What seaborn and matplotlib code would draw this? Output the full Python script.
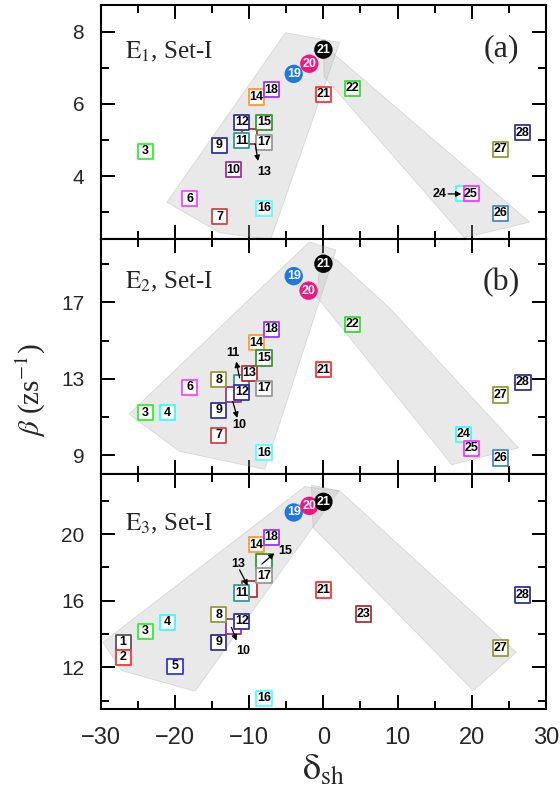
import matplotlib
matplotlib.use("Agg")
import pandas as pd
import matplotlib.pyplot as plt
import seaborn as sns
from matplotlib.ticker import MultipleLocator

# outline colours of the square markers, by state number
box_colors = {
    "1": "#555555", "2": "#ff3333", "3": "#33ee33", "4": "#33ffff", "5": "#3333ee",
    "6": "#ff44ff", "7": "#d04444", "8": "#999933", "9": "#333399", "10": "#993399",
    "11": "#339999", "12": "#3333aa", "13": "#b03333", "14": "#ff9933", "15": "#339933",
    "16": "#55ffff", "17": "#999999", "18": "#9933ff", "21": "#ff3333", "22": "#33dd33",
    "23": "#aa3333", "24": "#33ffff", "25": "#ff33ff", "26": "#4488cc", "27": "#999933",
    "28": "#333399",
}
dot_colors = {"19": "#1f78e0", "20": "#f5157f", "21": "#000000"}

# ---- panel (a): E1, Set-I
a_box_lab = ["13", "3", "6", "7", "9", "10", "11", "12", "14", "15", "16", "17", "18",
             "21", "22", "24", "25", "26", "27", "28"]
a_box_x = [-10.0, -24.0, -18.0, -14.0, -14.0, -12.1, -11.0, -11.0, -9.0, -8.0, -8.0, -8.0,
           -7.0, 0.0, 3.9, 18.9, 19.9, 23.9, 23.9, 26.8]
a_box_y = [5.1, 4.69, 3.38, 2.88, 4.86, 4.18, 4.98, 5.49, 6.19, 5.49, 3.11, 4.94, 6.39,
           6.27, 6.43, 3.51, 3.51, 2.98, 4.74, 5.2]
a_dot_x = [-4.0, -1.9, 0.0]
a_dot_y = [6.83, 7.11, 7.5]
a_call_lab = ["13", "24"]
a_call_text = [(-8.0, 4.12), (15.7, 3.51)]
a_call_tail = [(-9.2, 4.9), (16.8, 3.51)]
a_call_head = [(-8.8, 4.42), (18.6, 3.51)]
a_left_poly = [(-5.1, 7.97), (2.2, 7.7), (-7.1, 2.25), (-14.0, 2.44), (-21.1, 3.28)]
a_right_poly = [(0.0, 7.55), (1.3, 7.4), (27.8, 2.73), (19.0, 2.3), (0.1, 6.75)]

# ---- panel (b): E2, Set-I
b_box_lab = ["10", "11", "13", "3", "4", "6", "7", "8", "9", "12", "14", "15", "16", "17",
             "18", "21", "22", "24", "25", "26", "27", "28"]
b_box_x = [-12.1, -11.0, -10.0, -24.0, -21.0, -18.0, -14.1, -14.1, -14.1, -11.0, -9.0,
           -8.0, -8.0, -8.0, -7.0, 0.0, 3.9, 18.9, 20.0, 23.9, 23.9, 26.9]
b_box_y = [12.17, 12.82, 13.3, 11.23, 11.23, 12.56, 10.05, 12.96, 11.36, 12.29, 14.88,
           14.09, 9.12, 12.5, 15.59, 13.48, 15.86, 10.09, 9.35, 8.85, 12.15, 12.82]
b_dot_x = [-4.0, -2.0, 0.0]
b_dot_y = [18.38, 17.62, 19.03]
b_call_lab = ["11", "10"]
b_call_text = [(-12.2, 14.35), (-11.3, 10.57)]
b_call_tail = [(-11.3, 13.05), (-12.2, 11.8)]
b_call_head = [(-11.75, 13.9), (-11.6, 10.95)]
b_left_poly = [(-1.9, 20.17), (1.7, 19.75), (-7.9, 8.25), (-19.4, 9.2), (-26.2, 11.15)]
b_right_poly = [(-0.3, 19.6), (1.9, 19.2), (8.95, 16.7), (26.3, 9.38), (17.3, 8.5), (-0.9, 17.3)]

# ---- panel (c): E3, Set-I
c_box_lab = ["10", "13", "15", "1", "2", "3", "4", "5", "8", "9", "11", "12", "14", "16",
             "17", "18", "21", "23", "27", "28"]
c_box_x = [-12.1, -10.0, -8.0, -27.0, -27.0, -24.0, -21.0, -20.0, -14.1, -14.1, -11.0,
           -11.0, -9.0, -8.0, -8.0, -7.0, 0.0, 5.35, 23.9, 26.8]
c_box_y = [14.46, 16.7, 18.36, 13.5, 12.6, 14.16, 14.7, 12.06, 15.16, 13.5, 16.46, 14.76,
           19.36, 10.13, 17.5, 19.8, 16.64, 15.2, 13.16, 16.34]
c_dot_x = [-4.0, -1.9, 0.0]
c_dot_y = [21.3, 21.7, 21.94]
c_call_lab = ["13", "15", "10"]
c_call_text = [(-11.5, 18.2), (-5.2, 19.0), (-10.8, 12.96)]
c_call_tail = [(-11.3, 17.85), (-8.3, 18.2), (-12.4, 14.4)]
c_call_head = [(-10.2, 16.9), (-6.6, 18.85), (-11.7, 13.6)]
c_left_poly = [(-29.7, 13.5), (-2.5, 22.86), (2.1, 22.6), (-17.3, 10.56), (-27.2, 11.8)]
c_right_poly = [(-1.6, 22.94), (2.2, 22.6), (26.0, 12.9), (20.2, 10.6), (-1.4, 20.4)]

panels = [
    dict(box_lab=a_box_lab, box_x=a_box_x, box_y=a_box_y, dot_x=a_dot_x, dot_y=a_dot_y,
         call_lab=a_call_lab, call_text=a_call_text, call_tail=a_call_tail,
         call_head=a_call_head, polys=[a_left_poly, a_right_poly],
         ylim=(2.25, 8.74), major=2, minor=1, offset=0,
         name=r"$\mathrm{E_1}$, Set-I", tag="(a)", name_y=0.80, tag_y=0.815),
    dict(box_lab=b_box_lab, box_x=b_box_x, box_y=b_box_y, dot_x=b_dot_x, dot_y=b_dot_y,
         call_lab=b_call_lab, call_text=b_call_text, call_tail=b_call_tail,
         call_head=b_call_head, polys=[b_left_poly, b_right_poly],
         ylim=(8.0, 20.3), major=4, minor=2, offset=1,
         name=r"$\mathrm{E_2}$, Set-I", tag="(b)", name_y=0.82, tag_y=0.815),
    dict(box_lab=c_box_lab, box_x=c_box_x, box_y=c_box_y, dot_x=c_dot_x, dot_y=c_dot_y,
         call_lab=c_call_lab, call_text=c_call_text, call_tail=c_call_tail,
         call_head=c_call_head, polys=[c_left_poly, c_right_poly],
         ylim=(9.5, 23.6), major=4, minor=2, offset=0,
         name=r"$\mathrm{E_3}$, Set-I", tag=None, name_y=0.79, tag_y=0.8),
]

sns.set_style("ticks")
plt.rcParams["font.family"] = ["Liberation Sans", "DejaVu Sans"]
plt.rcParams["mathtext.fontset"] = "stix"

fig, axes = plt.subplots(3, 1, sharex=True, figsize=(5.6, 8.01))
fig.subplots_adjust(left=0.18, right=0.975, top=0.994, bottom=0.115, hspace=0)

for ax, p in zip(axes, panels):
    for poly in p["polys"]:
        px = [v[0] for v in poly]
        py = [v[1] for v in poly]
        ax.fill(px, py, facecolor="#b8b8b8", alpha=0.3, edgecolor="#9a9a9a", lw=0.6, zorder=1)

    box_df = pd.DataFrame({"x": p["box_x"], "y": p["box_y"], "label": p["box_lab"]})
    sns.scatterplot(data=box_df, x="x", y="y", hue="label", palette=box_colors, marker="s",
                    s=118, linewidth=1.3, legend=False, ax=ax, zorder=3)
    coll = ax.collections[-1]
    coll.set_edgecolors(coll.get_facecolors())
    coll.set_facecolors("white")

    dot_df = pd.DataFrame({"x": p["dot_x"], "y": p["dot_y"], "label": ["19", "20", "21"]})
    sns.scatterplot(data=dot_df, x="x", y="y", hue="label", palette=dot_colors, marker="o",
                    s=175, linewidth=0, legend=False, ax=ax, zorder=4)

    for lab, x, y in zip(p["box_lab"], p["box_x"], p["box_y"]):
        if lab in p["call_lab"]:
            continue
        ax.text(x, y, lab, ha="center", va="center", fontsize=9, fontweight="bold",
                color="black", zorder=5)
    for lab, x, y in zip(["19", "20", "21"], p["dot_x"], p["dot_y"]):
        ax.text(x, y, lab, ha="center", va="center", fontsize=9, fontweight="bold",
                color="white", zorder=5)
    for lab, t, tail, head in zip(p["call_lab"], p["call_text"], p["call_tail"], p["call_head"]):
        ax.text(t[0], t[1], lab, ha="center", va="center", fontsize=9, fontweight="bold",
                color="black", zorder=6)
        ax.annotate("", xy=head, xytext=tail,
                    arrowprops=dict(arrowstyle="-|>", color="black", lw=0.9,
                                    mutation_scale=8, shrinkA=0, shrinkB=0), zorder=6)

    ax.text(0.054, p["name_y"], p["name"], transform=ax.transAxes, fontsize=18,
            family="Liberation Serif", ha="left", va="center")
    if p["tag"]:
        ax.text(0.9, p["tag_y"], p["tag"], transform=ax.transAxes, fontsize=23,
                family="Liberation Serif", ha="center", va="center")

    ax.set_xlim(-30, 30)
    ax.set_ylim(*p["ylim"])
    ax.xaxis.set_major_locator(MultipleLocator(10))
    ax.xaxis.set_minor_locator(MultipleLocator(5))
    ax.yaxis.set_major_locator(MultipleLocator(p["major"], offset=p["offset"]))
    ax.yaxis.set_minor_locator(MultipleLocator(p["minor"], offset=p["offset"]))
    ax.tick_params(which="both", direction="in", top=True, right=True, width=1.4,
                   color="black")
    ax.tick_params(which="major", length=10)
    ax.tick_params(which="minor", length=5.5)
    ax.tick_params(axis="y", labelsize=15, pad=12)
    ax.tick_params(axis="x", labelsize=17, pad=13)
    for sp in ax.spines.values():
        sp.set_linewidth(1.5)
        sp.set_color("black")
    ax.set_xlabel("")
    ax.set_ylabel("")

fig.text(0.055, 1 - 390 / 801, r"$\beta$ (zs$^{-1}$)", rotation=90, fontsize=21,
         family="Liberation Serif", ha="center", va="center")
fig.text(0.578, 1 - 770 / 801, r"$\mathrm{\delta_{sh}}$", fontsize=26, ha="center", va="center")

fig.savefig("out.png", dpi=100)
